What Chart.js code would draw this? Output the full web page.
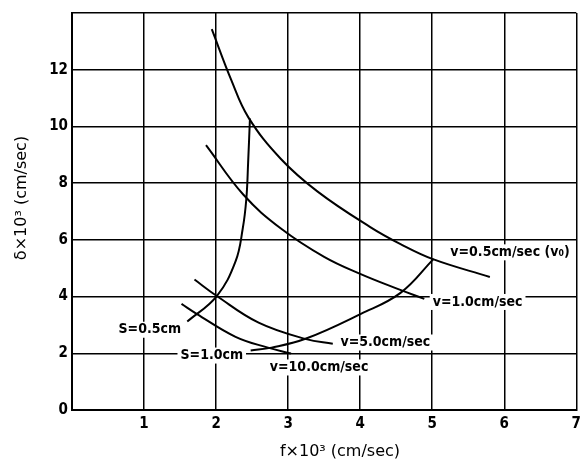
<!DOCTYPE html>
<html>
<head>
<meta charset="utf-8">
<script src="https://cdn.jsdelivr.net/npm/chart.js@4/dist/chart.umd.min.js"></script>
<style>
html,body{margin:0;padding:0;background:#fff;}
#wrap{width:586px;height:466px;}
</style>
</head>
<body>
<div id="wrap"><canvas id="c" width="586" height="466"></canvas></div>
<script>
// x ticks and y ticks
const xTicks = [1, 2, 3, 4, 5, 6, 7];
const yTicks = [0, 2, 4, 6, 8, 10, 12];

// Curves: f×10³ (x) and δ×10³ (y)
const v05X = [1.94, 2.21, 2.45, 2.90, 3.41, 4.14, 4.56, 5.00, 5.80];
const v05Y = [13.43, 11.64, 10.31, 8.85, 7.70, 6.45, 5.85, 5.33, 4.69];

const v10X = [1.86, 2.38, 2.90, 3.50, 4.00, 4.52, 4.89];
const v10Y = [9.34, 7.59, 6.40, 5.40, 4.80, 4.27, 3.92];

const v50X = [1.70, 2.01, 2.59, 3.25, 3.62];
const v50Y = [4.60, 4.02, 3.08, 2.50, 2.34];

const v100X = [1.52, 1.73, 2.27, 2.72, 3.04];
const v100Y = [3.74, 3.39, 2.58, 2.20, 1.99];

const s05X = [1.60, 2.01, 2.27, 2.37, 2.42, 2.445, 2.47];
const s05Y = [3.12, 4.02, 5.24, 6.40, 7.45, 8.74, 10.28];

const s10X = [2.48, 2.77, 3.25, 4.01, 4.56, 5.02];
const s10Y = [2.10, 2.20, 2.52, 3.39, 4.13, 5.33];

// Curve labels
const labelTexts = ["S=0.5cm", "S=1.0cm", "v=10.0cm/sec", "v=5.0cm/sec", "v=1.0cm/sec", "v=0.5cm/sec (v\u2080)"];
const labelX = [1.08, 1.94, 3.43, 4.35, 5.63, 6.08];
const labelY = [2.83, 1.92, 1.50, 2.38, 3.81, 5.56];

const xTitle = "f\u00d710\u00b3 (cm/sec)";
const yTitle = "\u03b4\u00d710\u00b3 (cm/sec)";

function pts(xs, ys){ return xs.map((x,i)=>({x:x, y:ys[i]})); }

const curveStyle = {
  borderColor:'#000', borderWidth:2, pointRadius:0, fill:false,
  showLine:true, tension:0.4
};

const labelPlugin = {
  id:'labels',
  afterDatasetsDraw(chart){
    const ctx = chart.ctx, xs = chart.scales.x, ys = chart.scales.y;
    ctx.save();
    ctx.font = 'bold 14px "DejaVu Sans Condensed", Arial, sans-serif';
    ctx.textAlign = 'center';
    ctx.textBaseline = 'middle';
    labelTexts.forEach((t,i)=>{
      const px = xs.getPixelForValue(labelX[i]);
      const py = ys.getPixelForValue(labelY[i]);
      const w = ctx.measureText(t).width;
      ctx.fillStyle = '#fff';
      ctx.fillRect(px - w/2 - 3, py - 8, w + 6, 16);
      ctx.fillStyle = '#000';
      ctx.fillText(t, px, py);
    });
    // axis titles
    ctx.font = '16px "DejaVu Sans", Arial, sans-serif';
    ctx.fillText(xTitle, 340, 452);
    ctx.translate(22, 198);
    ctx.rotate(-Math.PI/2);
    ctx.fillText(yTitle, 0, 0);
    ctx.restore();
  }
};

const tickFont = {family:'"DejaVu Sans Condensed", "DejaVu Sans", sans-serif', size:15, weight:'bold'};

new Chart(document.getElementById('c'), {
  type:'scatter',
  data:{
    datasets:[
      Object.assign({label:'v=0.5', data:pts(v05X, v05Y)}, curveStyle),
      Object.assign({label:'v=1.0', data:pts(v10X, v10Y)}, curveStyle),
      Object.assign({label:'v=5.0', data:pts(v50X, v50Y)}, curveStyle),
      Object.assign({label:'v=10.0', data:pts(v100X, v100Y)}, curveStyle),
      Object.assign({label:'S=0.5', data:pts(s05X, s05Y)}, curveStyle),
      Object.assign({label:'S=1.0', data:pts(s10X, s10Y)}, curveStyle)
    ]
  },
  options:{
    responsive:false,
    animation:false,
    layout:{padding:{left:0, right:6, top:11, bottom:0}},
    plugins:{legend:{display:false}, tooltip:{enabled:false}},
    scales:{
      x:{
        type:'linear', min:0, max:7,
        afterBuildTicks(s){ s.ticks = [0].concat(xTicks).map(v=>({value:v})); },
        afterFit(s){ s.height = 56; },
        grid:{color:'#000', lineWidth:1.5, drawTicks:false},
        border:{color:'#000', width:2},
        ticks:{
          color:'#000', padding:5, font:tickFont,
          callback:(v)=> xTicks.includes(v) ? String(v) : ''
        }
      },
      y:{
        type:'linear', min:0, max:14,
        afterBuildTicks(s){ s.ticks = yTicks.concat([14]).map(v=>({value:v})); },
        afterFit(s){ s.width = 72; },
        grid:{color:'#000', lineWidth:1.5, drawTicks:false},
        border:{color:'#000', width:2},
        ticks:{
          color:'#000', padding:4, font:tickFont,
          callback:(v)=> yTicks.includes(v) ? String(v) : ''
        }
      }
    }
  },
  plugins:[labelPlugin]
});
</script>
</body>
</html>
